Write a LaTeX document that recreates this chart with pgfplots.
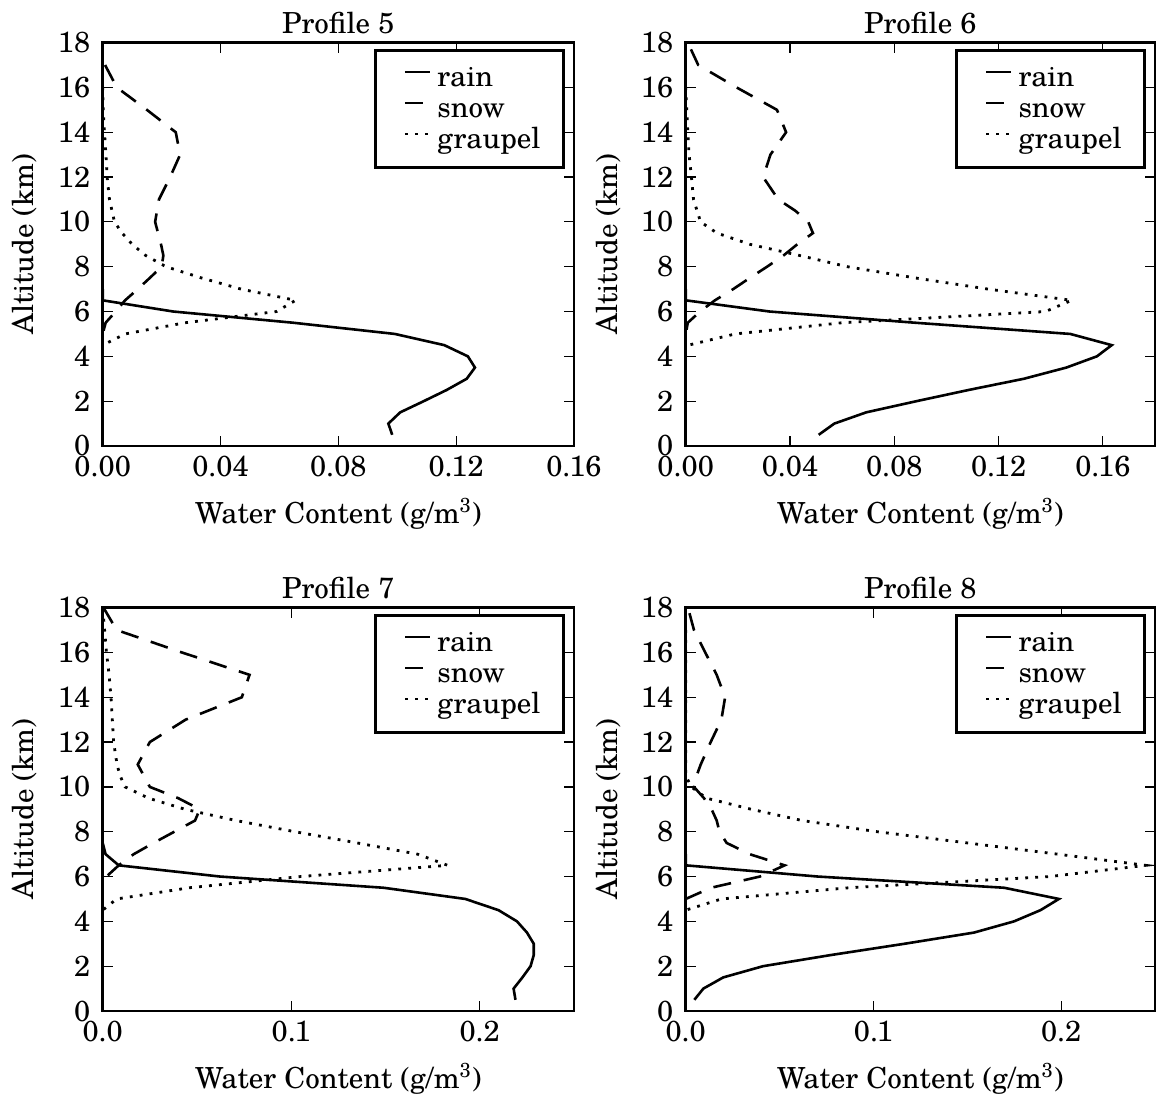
\documentclass[border=0pt]{standalone}
\usepackage{fontspec}
\setmainfont{texgyreschola}[Extension=.otf,UprightFont=*-regular,BoldFont=*-bold,ItalicFont=*-italic,BoldItalicFont=*-bolditalic]
\usepackage{pgfplots}
\pgfplotsset{compat=1.18}

\pgfplotsset{
  profile/.style={
    scale only axis, height=201.7pt,
    xmin=0, ymin=0, ymax=18,
    ytick={0,2,...,18},
    scaled x ticks=false,
    tick align=inside, major tick length=5pt,
    every tick/.style={black, line width=0.6pt},
    axis line style={line width=1.4pt},
    /pgf/number format/assume math mode=true,
    xticklabel style={anchor=base, yshift=-15pt},
    yticklabel style={xshift=-2.7pt},
    every axis title shift=0pt,
    title style={at={(axis description cs:0.5,1.0233)}, anchor=base, yshift=0pt},
    xlabel style={at={(axis description cs:0.5,-0.1918)}, anchor=base},
    ylabel style={at={(axis description cs:-0.165,0.5)}, anchor=center},
    xlabel={Water Content (g/m\textsuperscript{3})},
    ylabel={Altitude (km)},
    legend cell align=left,
    legend style={at={(0.981,0.984)}, anchor=north east, draw=black,
      line width=1.4pt, inner xsep=8.5pt, inner ysep=7pt,
      nodes={inner xsep=3pt, inner ysep=1.5pt, text height=9.5pt, text depth=1pt},
      row sep=2pt},
    legend image code/.code={\path (-5.5pt,0pt); \draw[#1] (0pt,3pt) -- (12.5pt,3pt);},
  },
  rain/.style={black, line width=1.3pt},
  snow/.style={black, line width=1.3pt, dash pattern=on 9pt off 6.5pt},
  graupel/.style={black, line width=1.4pt, dash pattern=on 1.4pt off 3.6pt},
  twoplaces/.style={xticklabel style={/pgf/number format/.cd, fixed, fixed zerofill, precision=2}},
  oneplace/.style={xticklabel style={/pgf/number format/.cd, fixed, fixed zerofill, precision=1}},
}

\begin{document}
\begin{tikzpicture}[font=\fontsize{14.5}{17}\selectfont]
\useasboundingbox (0,0) rectangle (579.5pt,-553pt);

% Profile 5
\begin{axis}[profile, twoplaces, at={(51.35pt,-223pt)}, width=235.6pt,
  xmax=0.16, xtick={0,0.04,0.08,0.12,0.16}, title={Profile 5}]
\addplot[rain] coordinates {(0,7.0) (0,6.5) (0.024,6.0) (0.0647,5.5) (0.0992,5.0)
  (0.116,4.5) (0.124,4.0) (0.1264,3.5) (0.1236,3.0) (0.1168,2.5) (0.109,2.0)
  (0.101,1.5) (0.097,1.0) (0.0983,0.5)};
\addplot[snow] coordinates {(0.0008,17.0) (0.0048,16.0) (0.015,15.0) (0.0248,14.0)
  (0.0263,13.0) (0.0229,12.0) (0.0191,11.0) (0.0178,10.0) (0.0198,9.0) (0.0206,8.5)
  (0.020,8.0) (0.016,7.5) (0.0119,7.0) (0.0076,6.5) (0.0044,6.0) (0.001,5.5) (0,5.0)};
\addplot[graupel] coordinates {(0,16.0) (0.0002,15.0) (0.0006,14.0) (0.0011,13.0)
  (0.0015,12.0) (0.0023,11.0) (0.004,10.0) (0.0066,9.5) (0.010,9.0) (0.0146,8.5)
  (0.0215,8.0) (0.0335,7.5) (0.047,7.0) (0.0655,6.5) (0.059,6.0) (0.028,5.5)
  (0.0076,5.0) (0,4.5)};
\legend{rain,snow,graupel}
\end{axis}

% Profile 6
\begin{axis}[profile, twoplaces, at={(342.85pt,-223pt)}, width=234.65pt,
  xmax=0.18, xtick={0,0.04,0.08,0.12,0.16}, title={Profile 6}]
\addplot[rain] coordinates {(0,7.0) (0,6.5) (0.0322,6.0) (0.088,5.5) (0.1475,5.0)
  (0.1634,4.5) (0.1577,4.0) (0.146,3.5) (0.1297,3.0) (0.1085,2.5) (0.0885,2.0)
  (0.0692,1.5) (0.057,1.0) (0.051,0.5)};
\addplot[snow] coordinates {(0.002,17.7) (0.0048,17.0) (0.0195,16.0) (0.035,15.0)
  (0.0385,14.0) (0.0325,13.0) (0.0297,12.0) (0.0355,11.0) (0.042,10.5) (0.047,10.0)
  (0.0488,9.5) (0.0428,9.0) (0.0375,8.5) (0.0312,8.0) (0.0246,7.5) (0.0182,7.0)
  (0.0112,6.5) (0.0055,6.0) (0.0008,5.5) (0,5.0)};
\addplot[graupel] coordinates {(0,16.0) (0.0004,15.0) (0.0008,14.0) (0.0013,13.0)
  (0.0022,12.0) (0.003,11.0) (0.0057,10.0) (0.012,9.5) (0.0246,9.0) (0.0437,8.5)
  (0.062,8.0) (0.088,7.5) (0.116,7.0) (0.148,6.5) (0.138,6.0) (0.060,5.5)
  (0.019,5.0) (0.001,4.5)};
\legend{rain,snow,graupel}
\end{axis}

% Profile 7
\begin{axis}[profile, oneplace, at={(51.35pt,-505.5pt)}, width=235.6pt,
  xmax=0.25, xtick={0,0.1,0.2}, title={Profile 7}]
\addplot[rain] coordinates {(0,7.5) (0.0015,7.0) (0.0085,6.5) (0.0623,6.0) (0.149,5.5)
  (0.1924,5.0) (0.210,4.5) (0.2198,4.0) (0.2251,3.5) (0.2287,3.0) (0.2287,2.5)
  (0.227,2.0) (0.2227,1.5) (0.218,1.0) (0.219,0.5)};
\addplot[snow] coordinates {(0.0004,18.0) (0.0074,17.0) (0.042,16.0) (0.0779,15.0)
  (0.0738,14.0) (0.044,13.0) (0.025,12.0) (0.0186,11.0) (0.025,10.0) (0.040,9.5)
  (0.0515,9.0) (0.049,8.5) (0.038,8.0) (0.027,7.5) (0.0165,7.0) (0.0085,6.5)
  (0.002,6.0)};
\addplot[graupel] coordinates {(0.0005,17.5) (0.002,16.0) (0.0034,15.0) (0.0044,14.0)
  (0.0051,13.0) (0.0058,12.0) (0.0076,11.0) (0.0092,10.5) (0.0119,10.0) (0.0242,9.5)
  (0.0437,9.0) (0.0707,8.5) (0.102,8.0) (0.135,7.5) (0.167,7.0) (0.183,6.5)
  (0.105,6.0) (0.046,5.5) (0.0074,5.0) (0,4.5)};
\legend{rain,snow,graupel}
\end{axis}

% Profile 8
\begin{axis}[profile, oneplace, at={(342.85pt,-505.5pt)}, width=234.65pt,
  xmax=0.25, xtick={0,0.1,0.2}, title={Profile 8}]
\addplot[rain] coordinates {(0,7.0) (0,6.5) (0.0704,6.0) (0.1696,5.5) (0.1988,5.0)
  (0.189,4.5) (0.1749,4.0) (0.1536,3.5) (0.1165,3.0) (0.0775,2.5) (0.0412,2.0)
  (0.020,1.5) (0.0094,1.0) (0.0046,0.5)};
\addplot[snow] coordinates {(0.002,17.75) (0.0044,17.0) (0.0104,16.0) (0.0165,15.0)
  (0.021,14.0) (0.019,13.0) (0.0133,12.0) (0.008,11.0) (0.0058,10.5) (0.0044,10.0)
  (0.0097,9.5) (0.0138,9.0) (0.0165,8.5) (0.018,8.0) (0.0218,7.5) (0.034,7.0)
  (0.0527,6.5) (0.0395,6.0) (0.0135,5.5) (0,5.0)};
\addplot[graupel] coordinates {(0,17.0) (0,11.0) (0,10.5) (0.003,10.0) (0.011,9.5)
  (0.035,9.0) (0.062,8.5) (0.102,8.0) (0.150,7.5) (0.198,7.0) (0.245,6.5)
  (0.194,6.0) (0.087,5.5) (0.019,5.0) (0,4.5)};
\legend{rain,snow,graupel}
\end{axis}
\end{tikzpicture}
\end{document}
